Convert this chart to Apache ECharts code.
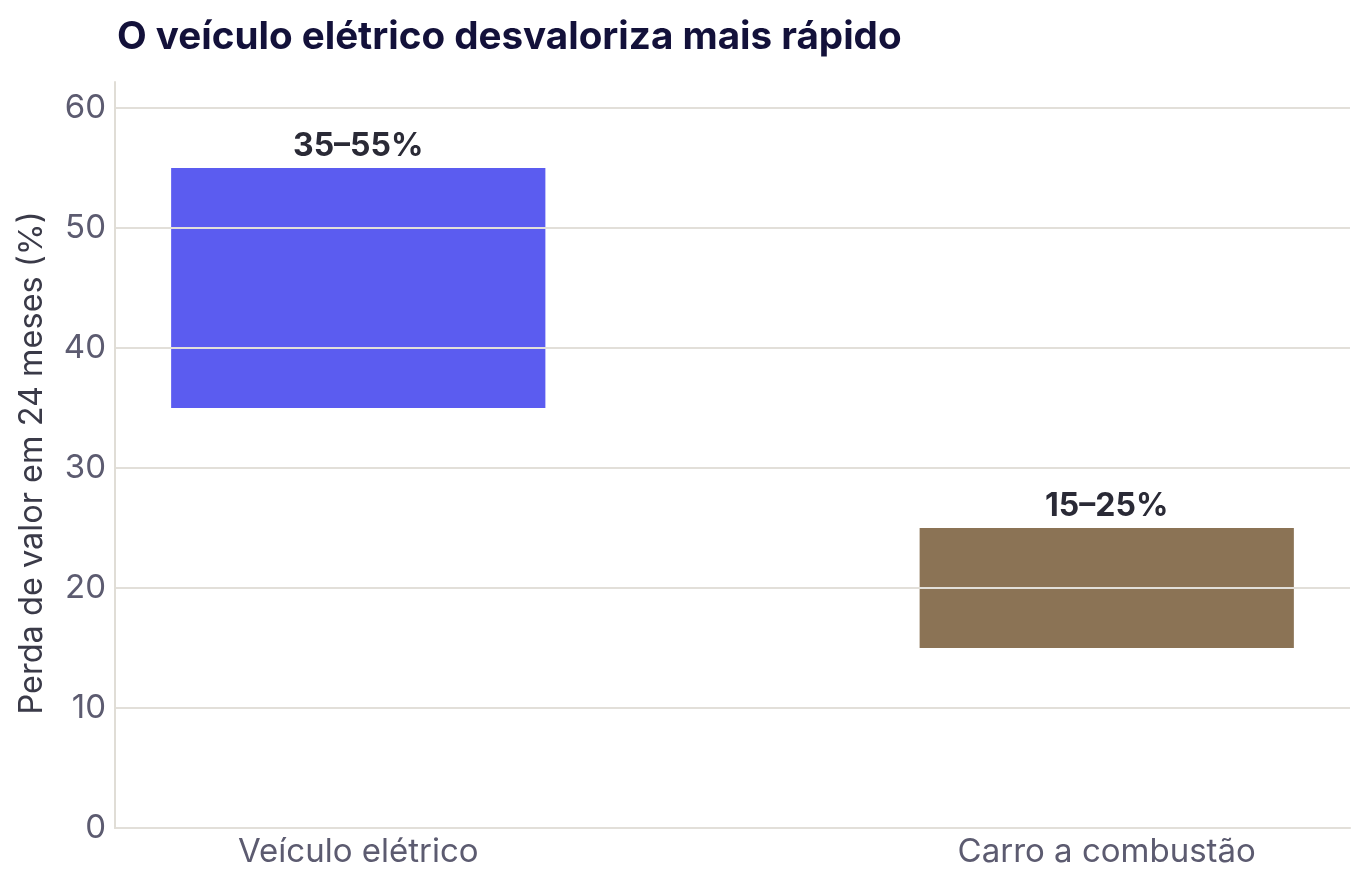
<!DOCTYPE html>
<html>
<head>
<meta charset="utf-8">
<script src="https://cdn.jsdelivr.net/npm/echarts@6/dist/echarts.min.js"></script>
<style>
  html, body { margin: 0; padding: 0; background: #fff; }
  #chart { width: 1370px; height: 890px; }
</style>
</head>
<body>
<div id="chart"></div>
<script>
var dom = document.getElementById("chart");
var myChart = echarts.init(dom);

// dados
var categorias = ['Veículo elétrico', 'Carro a combustão'];
var perdaMin = [35, 15];
var perdaMax = [55, 25];
var rotulos = ['35–55%', '15–25%'];
var cores = ['#5b5cf0', '#8b7355'];

var dados = categorias.map(function (c, i) {
    return [i, perdaMin[i], perdaMax[i]];
});

var option = {
    backgroundColor: '#ffffff',
    title: {
        text: 'O veículo elétrico desvaloriza mais rápido',
        left: 112,
        top: 13,
        textStyle: {
            fontFamily: 'Inter',
            fontWeight: 'bold',
            fontSize: 38.6,
            color: '#13113a'
        }
    },
    grid: {
        left: 115,
        right: 20,
        top: 82,
        bottom: 62
    },
    xAxis: {
        type: 'value',
        min: -0.325,
        max: 1.325,
        axisLine: { show: true, onZero: false, lineStyle: { color: '#e0ddd6', width: 2 } },
        axisTick: { show: false },
        splitLine: { show: false },
        axisLabel: {
            customValues: [0, 1],
            formatter: function (v) { return categorias[Math.round(v)]; },
            fontFamily: 'Inter',
            fontSize: 33,
            color: '#5c5b70',
            margin: 8
        }
    },
    yAxis: {
        type: 'value',
        min: 0,
        max: 62.17,
        interval: 10,
        z: 5,
        name: 'Perda de valor em 24 meses (%)',
        nameLocation: 'middle',
        nameGap: 66,
        nameTextStyle: {
            fontFamily: 'Inter',
            fontSize: 32.5,
            color: '#3a3a48',
            padding: [0, 16, 0, 0]
        },
        axisLine: { show: true, onZero: false, lineStyle: { color: '#e0ddd6', width: 2 } },
        axisTick: { show: false },
        splitLine: { show: true, showMaxLine: false, lineStyle: { color: '#e2dfd9', width: 2 } },
        axisLabel: {
            showMaxLabel: false,
            formatter: function (v) { return v % 10 === 0 ? String(v) : ''; },
            fontFamily: 'Inter',
            fontSize: 33,
            color: '#5c5b70',
            margin: 9
        }
    },
    series: [
        {
            type: 'custom',
            data: dados,
            encode: { x: 0, y: [1, 2] },
            renderItem: function (params, api) {
                var x = api.value(0);
                var p1 = api.coord([x - 0.25, api.value(2)]);
                var p2 = api.coord([x + 0.25, api.value(1)]);
                var i = params.dataIndex;
                return {
                    type: 'group',
                    children: [
                        {
                            type: 'rect',
                            shape: { x: p1[0], y: p1[1], width: p2[0] - p1[0], height: p2[1] - p1[1] },
                            style: { fill: cores[i] }
                        },
                        {
                            type: 'text',
                            x: (p1[0] + p2[0]) / 2,
                            y: p1[1] - 6,
                            style: {
                                text: rotulos[i],
                                align: 'center',
                                verticalAlign: 'bottom',
                                fontFamily: 'Inter',
                                fontWeight: 'bold',
                                fontSize: 32,
                                fill: '#2a2a36'
                            }
                        }
                    ]
                };
            }
        }
    ]
};

if (option && typeof option === "object") {
    myChart.setOption(option, true);
}
</script>
</body>
</html>
